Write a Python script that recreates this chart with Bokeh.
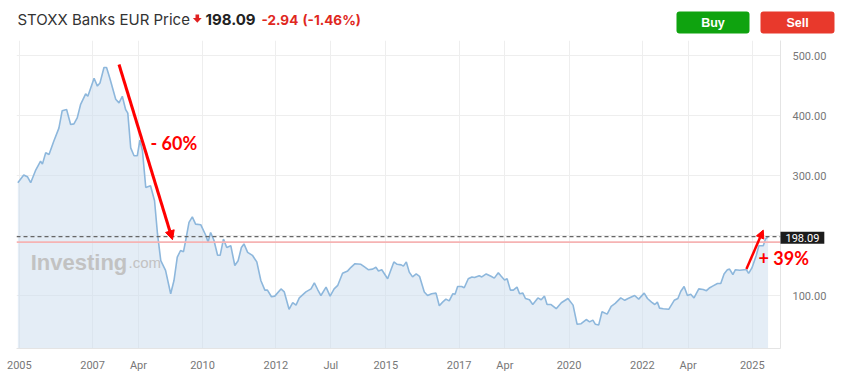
from bokeh.plotting import figure
from bokeh.models import (Range1d, FixedTicker, Span, Label, Arrow, NormalHead,
                          PrintfTickFormatter, GridBox)
from bokeh.core.properties import value
from bokeh.embed import file_html
from bokeh.resources import INLINE

# ---------------- data ----------------
years = [2004.96, 2005.12, 2005.22, 2005.31, 2005.44, 2005.58, 2005.63, 2005.72, 2005.81, 2005.94,
         2006.08, 2006.17, 2006.29, 2006.40, 2006.49, 2006.58, 2006.67, 2006.81, 2006.87, 2007.04,
         2007.13, 2007.20, 2007.31, 2007.38, 2007.47, 2007.63, 2007.72, 2007.81, 2007.90, 2007.96,
         2008.04, 2008.13, 2008.22, 2008.29, 2008.36, 2008.45, 2008.58, 2008.69, 2008.77, 2008.86,
         2008.99, 2009.13, 2009.22, 2009.31, 2009.40, 2009.48, 2009.54, 2009.63, 2009.72, 2009.81,
         2009.95, 2010.09, 2010.15, 2010.22, 2010.31, 2010.41, 2010.48, 2010.57, 2010.66, 2010.77,
         2010.88, 2010.97, 2011.06, 2011.13, 2011.23, 2011.36, 2011.48, 2011.59, 2011.70, 2011.77,
         2011.88, 2011.97, 2012.14, 2012.23, 2012.36, 2012.46, 2012.55, 2012.64, 2012.82, 2012.96,
         2013.05, 2013.14, 2013.23, 2013.37, 2013.48, 2013.59, 2013.69, 2013.82, 2013.96, 2014.05,
         2014.16, 2014.32, 2014.41, 2014.52, 2014.64, 2014.73, 2014.80, 2014.89, 2015.05, 2015.22,
         2015.31, 2015.42, 2015.48, 2015.56, 2015.64, 2015.73, 2015.83, 2015.92, 2016.05, 2016.14,
         2016.25, 2016.37, 2016.46, 2016.55, 2016.64, 2016.73, 2016.83, 2016.89, 2016.96, 2017.07,
         2017.14, 2017.25, 2017.35, 2017.42, 2017.55, 2017.62, 2017.74, 2017.87, 2017.96, 2018.07,
         2018.15, 2018.24, 2018.31, 2018.40, 2018.48, 2018.58, 2018.65, 2018.74, 2018.81, 2018.92,
         2019.01, 2019.15, 2019.24, 2019.33, 2019.40, 2019.51, 2019.65, 2019.79, 2019.97, 2020.11,
         2020.22, 2020.33, 2020.47, 2020.56, 2020.65, 2020.72, 2020.81, 2020.90, 2021.04, 2021.15,
         2021.26, 2021.41, 2021.52, 2021.61, 2021.79, 2021.90, 2022.05, 2022.14, 2022.25, 2022.34,
         2022.41, 2022.47, 2022.57, 2022.72, 2022.87, 2022.97, 2023.05, 2023.14, 2023.23, 2023.32,
         2023.41, 2023.54, 2023.66, 2023.75, 2023.84, 2023.93, 2024.05, 2024.14, 2024.23, 2024.32,
         2024.38, 2024.47, 2024.54, 2024.66, 2024.78, 2024.84, 2024.90, 2024.99, 2025.11, 2025.18,
         2025.30, 2025.36, 2025.43]
prices = [288, 301, 298, 288, 308, 324, 319, 338, 335, 357,
          379, 408, 410, 385, 386, 396, 418, 436, 432, 462,
          449, 454, 480, 480, 462, 427, 421, 432, 410, 404,
          346, 333, 333, 359, 341, 280, 283, 258, 203, 158,
          142, 103, 125, 164, 175, 173, 192, 222, 231, 219,
          218, 200, 189, 205, 192, 167, 167, 194, 180, 183,
          150, 158, 180, 186, 172, 167, 156, 125, 109, 109,
          98, 99, 111, 106, 77, 88, 84, 96, 106, 111,
          121, 110, 100, 114, 99, 111, 117, 137, 141, 147,
          153, 152, 148, 143, 144, 147, 141, 143, 128, 156,
          152, 151, 149, 156, 139, 131, 136, 132, 106, 100,
          103, 104, 83, 89, 94, 91, 103, 102, 115, 115,
          113, 128, 131, 130, 133, 131, 136, 132, 129, 138,
          132, 126, 128, 109, 109, 114, 103, 104, 95, 93,
          85, 96, 93, 99, 85, 85, 78, 88, 95, 84,
          52, 53, 60, 56, 59, 52, 51, 73, 69, 82,
          87, 96, 92, 95, 100, 94, 104, 95, 89, 85,
          89, 79, 78, 77, 92, 95, 107, 115, 100, 102,
          96, 111, 110, 108, 113, 116, 120, 120, 136, 143,
          144, 135, 143, 142, 143, 143, 137, 146, 167, 183,
          183, 194, 198.09]

x_ticks = [2005.0, 2007.0, 2008.25, 2010.0, 2012.0, 2013.5, 2015.0, 2017.0, 2018.25,
           2020.0, 2022.0, 2023.25, 2025.0]
x_tick_labels = ["2005", "2007", "Apr", "2010", "2012", "Jul", "2015", "2017", "Apr",
                 "2020", "2022", "Apr", "2025"]
y_ticks = [100, 200, 300, 400, 500]

title_text = "STOXX Banks EUR Price"
last_price = 198.09
change_text = "-2.94"
change_pct_text = "(-1.46%)"
ref_level = 189.0

drop_start = (2007.72, 485)
drop_end = (2009.18, 193)
drop_label = "- 60%"
drop_label_pos = (2008.58, 355)
rise_start = (2024.84, 144)
rise_end = (2025.30, 209)
rise_label = "+ 39%"
rise_label_pos = (2025.17, 163)

RED = "#ff0000"
FONT = "Roboto"
HFONT = "Inter"

# ---------------- geometry ----------------
W, H_HDR, H_MAIN = 841, 40, 340
B_LEFT, B_RIGHT, B_TOP, B_BOTTOM = 16, 61, 0, 32
X0, X1 = 2004.923, 2025.77
Y0, Y1 = 11.7, 525.0

# ---------------- header (title + buttons) ----------------
hdr = figure(width=W, height=H_HDR, x_range=Range1d(0, W), y_range=Range1d(H_HDR, 0),
             output_backend="svg", toolbar_location=None, min_border=0,
             x_axis_location=None, y_axis_location=None, outline_line_color=None)
hdr.frame_align = False
hdr.grid.visible = False
hdr.text(x=[17], y=[19], text=[title_text], text_font=value(HFONT), text_font_size="15px",
         text_color="#333333", text_baseline="middle")
hdr.quad(left=[195.0], right=[198.6], top=[14], bottom=[18], fill_color="#e02020", line_color=None)
hdr.patch(x=[192.4, 201.2, 196.8], y=[17.5, 17.5, 22.2], fill_color="#e02020", line_color=None)
hdr.text(x=[205], y=[19], text=[f"{last_price:.2f}"], text_font=value(HFONT), text_font_size="15px",
         text_font_style="bold", text_color="#222222", text_baseline="middle")
hdr.text(x=[261, 302], y=[19, 19], text=[change_text, change_pct_text], text_font=value(HFONT),
         text_font_size="13.5px", text_font_style="bold", text_color="#e0281e", text_baseline="middle")
hdr.quad(left=[676, 760], right=[749, 834], top=[11, 11], bottom=[33, 33],
         fill_color=["#0fa30f", "#e8392c"], line_color=None, border_radius=3)
hdr.text(x=[712.5, 797], y=[22.5, 22.5], text=["Buy", "Sell"], text_font=value("Liberation Sans"),
         text_font_size="12.5px", text_font_style="bold", text_color="white",
         text_align="center", text_baseline="middle")

# ---------------- main chart ----------------
p = figure(width=W, height=H_MAIN, x_range=Range1d(X0, X1), y_range=Range1d(Y0, Y1),
           output_backend="svg", toolbar_location=None, y_axis_location="right",
           min_border_left=B_LEFT, min_border_right=B_RIGHT, min_border_top=B_TOP,
           min_border_bottom=B_BOTTOM,
           outline_line_color=None, background_fill_color="white", border_fill_color="white")
p.frame_align = False

p.xgrid.ticker = FixedTicker(ticks=x_ticks)
p.ygrid.ticker = FixedTicker(ticks=y_ticks)
p.grid.grid_line_color = "#eeeeee"

p.varea(x=years, y1=0, y2=prices, fill_color="#cadcee", fill_alpha=0.5)
p.line(x=years, y=prices, line_color="#8db7dc", line_width=1.6)

p.add_layout(Span(location=ref_level, dimension="width", line_color="#f6b3b3", line_width=1.6))
p.add_layout(Span(location=last_price, dimension="width", line_color="#666666",
                  line_width=1.4, line_dash="4 3"))

# axes
p.xaxis.ticker = FixedTicker(ticks=x_ticks)
p.xaxis.major_label_overrides = {t: l for t, l in zip(x_ticks, x_tick_labels)}
p.yaxis.ticker = FixedTicker(ticks=y_ticks)
p.yaxis.formatter = PrintfTickFormatter(format="%.2f")
p.yaxis.major_label_overrides = {200: ""}
for ax in (p.xaxis[0], p.yaxis[0]):
    ax.major_tick_line_color = None
    ax.minor_tick_line_color = None
    ax.axis_line_color = "#e4e4e4"
    ax.major_label_text_color = "#777777"
    ax.major_label_text_font = FONT
    ax.major_label_text_font_size = "11px"
p.xaxis.major_label_standoff = 4
p.yaxis.major_label_standoff = 6

# watermark
p.add_layout(Label(x=2005.31, y=155, text="Investing", text_font="Liberation Sans",
                   text_font_size="22px", text_font_style="bold", text_color="#c2c2c2",
                   text_baseline="alphabetic"))
p.add_layout(Label(x=2007.98, y=155, text=".com", text_font="Liberation Sans",
                   text_font_size="15px", text_color="#c2c2c2", text_baseline="alphabetic"))

# annotations
p.add_layout(Arrow(x_start=drop_start[0], y_start=drop_start[1], x_end=drop_end[0], y_end=drop_end[1],
                   line_color=RED, line_width=3,
                   end=NormalHead(size=9, fill_color=RED, line_color=RED)))
p.add_layout(Arrow(x_start=rise_start[0], y_start=rise_start[1], x_end=rise_end[0], y_end=rise_end[1],
                   line_color=RED, line_width=2.5,
                   end=NormalHead(size=8, fill_color=RED, line_color=RED)))
p.add_layout(Label(x=drop_label_pos[0], y=drop_label_pos[1], text=drop_label, text_font="Lato",
                   text_font_size="18px", text_font_style="bold", text_color=RED,
                   text_baseline="middle"))

# ---------------- transparent overlay (same data mapping, full-width frame) ----------------
frame_w = W - B_LEFT - B_RIGHT
frame_h = H_MAIN - B_TOP - B_BOTTOM
px_x = frame_w / (X1 - X0)
px_y = frame_h / (Y1 - Y0)
ov = figure(width=W, height=H_MAIN,
            x_range=Range1d(X0 - B_LEFT / px_x, X1 + B_RIGHT / px_x),
            y_range=Range1d(Y0 - B_BOTTOM / px_y, Y1 + B_TOP / px_y),
            output_backend="svg", toolbar_location=None, min_border=0,
            x_axis_location=None, y_axis_location=None, outline_line_color=None,
            background_fill_color=None, border_fill_color=None)
ov.frame_align = False
ov.grid.visible = False
ov.add_layout(Label(x=rise_label_pos[0], y=rise_label_pos[1], text=rise_label, text_font="Lato",
                    text_font_size="18px", text_font_style="bold", text_color=RED,
                    text_baseline="middle"))
ov.add_layout(Label(x=X1, y=last_price, x_offset=0, y_offset=-1, text=f"{last_price:.2f}",
                    text_font=FONT, text_font_size="11px", text_color="white",
                    background_fill_color="#1c1c1c", text_baseline="middle", text_align="left",
                    padding=dict(x=5, y=2)))

layout = GridBox(children=[(hdr, 0, 0), (p, 1, 0), (ov, 1, 0)])
open("out.html", "w").write(file_html(layout, INLINE))
